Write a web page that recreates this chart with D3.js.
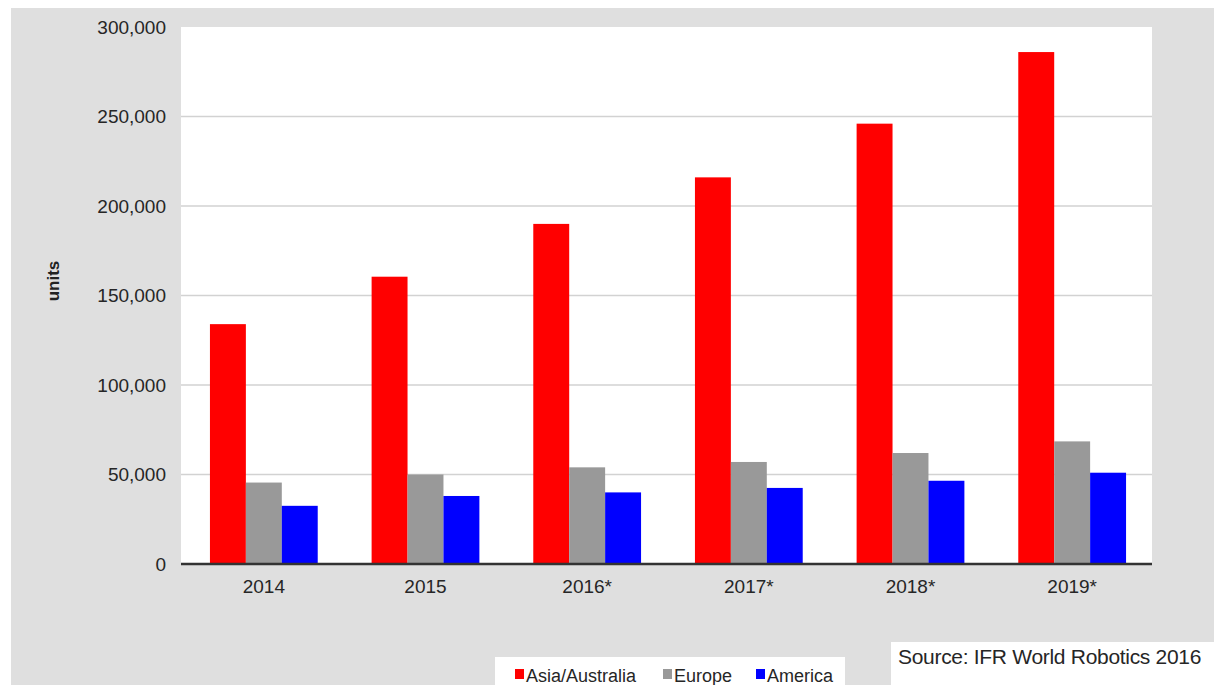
<!DOCTYPE html>
<html>
<head>
<meta charset="utf-8">
<script src="https://cdn.jsdelivr.net/npm/d3@7"></script>
<style>
  html, body { margin: 0; padding: 0; background: #ffffff; }
  svg { display: block; font-family: "Liberation Sans", Arial, sans-serif; }
</style>
</head>
<body>
<svg id="chart" width="1214" height="685"></svg>
<script>
// Annual industrial robot shipments by region (units)
const years = ["2014", "2015", "2016*", "2017*", "2018*", "2019*"];
const seriesNames = ["Asia/Australia", "Europe", "America"];
const asiaAustralia = [134000, 160500, 190000, 216000, 246000, 286000];
const europe = [45500, 50000, 54000, 57000, 62000, 68500];
const america = [32500, 38000, 40000, 42500, 46500, 51000];
const yTicks = [0, 50000, 100000, 150000, 200000, 250000, 300000];
const seriesColors = ["#ff0000", "#999999", "#0000ff"];
const sourceText = "Source: IFR World Robotics 2016";

const values = [asiaAustralia, europe, america];
const rows = years.map((y, i) => ({
  year: y,
  vals: seriesNames.map((s, j) => ({ series: s, value: values[j][i] }))
}));

const svg = d3.select("#chart");
const W = 1214, H = 685;
const plot = { left: 181, right: 1152, top: 27, bottom: 564 };

// Page background
svg.append("rect").attr("x", 11).attr("y", 8)
  .attr("width", W - 11).attr("height", H - 8).attr("fill", "#dfdfdf");

// Plot area
svg.append("rect").attr("x", plot.left).attr("y", plot.top)
  .attr("width", plot.right - plot.left).attr("height", plot.bottom - plot.top)
  .attr("fill", "#ffffff");

const x0 = d3.scaleBand().domain(years).range([plot.left + 2, plot.right + 1]);
const x1 = d3.scaleBand().domain(seriesNames).range([0, x0.bandwidth()]).paddingOuter(0.75);
const color = d3.scaleOrdinal().domain(seriesNames).range(seriesColors);
const y = d3.scaleLinear().domain([0, 300000]).range([plot.bottom, plot.top]);

// Horizontal gridlines
svg.append("g").selectAll("line")
  .data(yTicks.filter(t => t > 0 && t < 300000))
  .join("line")
  .attr("x1", plot.left).attr("x2", plot.right)
  .attr("y1", d => y(d)).attr("y2", d => y(d))
  .attr("stroke", "#d2d2d2").attr("stroke-width", 1.5);

// Y axis labels
const yAxis = d3.axisLeft(y).tickValues(yTicks).tickSize(0).tickPadding(15)
  .tickFormat(d3.format(","));
const yg = svg.append("g").attr("transform", `translate(${plot.left},0)`).call(yAxis);
yg.select(".domain").remove();
yg.selectAll("text").attr("font-size", 19).attr("fill", "#262626")
  .attr("font-family", "'Liberation Sans', Arial, sans-serif");

// Bars
svg.append("g").selectAll("g")
  .data(rows)
  .join("g")
  .attr("transform", d => `translate(${x0(d.year)},0)`)
  .selectAll("rect")
  .data(d => d.vals)
  .join("rect")
  .attr("x", d => x1(d.series))
  .attr("width", x1.bandwidth())
  .attr("y", d => y(d.value))
  .attr("height", d => y(0) - y(d.value))
  .attr("fill", d => color(d.series));

// Baseline and category labels
const xAxis = d3.axisBottom(x0).tickSize(0).tickPadding(16);
const xg = svg.append("g").attr("transform", `translate(0,${plot.bottom})`).call(xAxis);
xg.select(".domain").attr("stroke", "#333333").attr("stroke-width", 2.5)
  .attr("d", `M${plot.left},0H${plot.right}`);
xg.selectAll("text").attr("font-size", 19).attr("fill", "#262626")
  .attr("font-family", "'Liberation Sans', Arial, sans-serif");

// Axis title
svg.append("text")
  .attr("transform", "translate(59,281) rotate(-90)")
  .attr("text-anchor", "middle")
  .attr("font-size", 17).attr("font-weight", "bold").attr("fill", "#222222")
  .text("units");

// Legend
const legend = svg.append("g");
legend.append("rect").attr("x", 495).attr("y", 657).attr("width", 350).attr("height", 40)
  .attr("fill", "#ffffff");
const legendX = [515, 663, 756];
const items = legend.selectAll("g.item").data(seriesNames).join("g").attr("class", "item")
  .attr("transform", (d, i) => `translate(${legendX[i]},0)`);
items.append("rect").attr("x", 0).attr("y", 669).attr("width", 9).attr("height", 10)
  .attr("fill", d => color(d));
items.append("text").attr("x", 11).attr("y", 682)
  .attr("font-size", 18).attr("fill", "#262626").text(d => d);

// Source note
svg.append("rect").attr("x", 891).attr("y", 642).attr("width", W - 891).attr("height", 50)
  .attr("fill", "#ffffff");
svg.append("text").attr("x", 898).attr("y", 664)
  .attr("font-size", 21).attr("fill", "#262626").attr("letter-spacing", -0.3)
  .text(sourceText);
</script>
</body>
</html>
